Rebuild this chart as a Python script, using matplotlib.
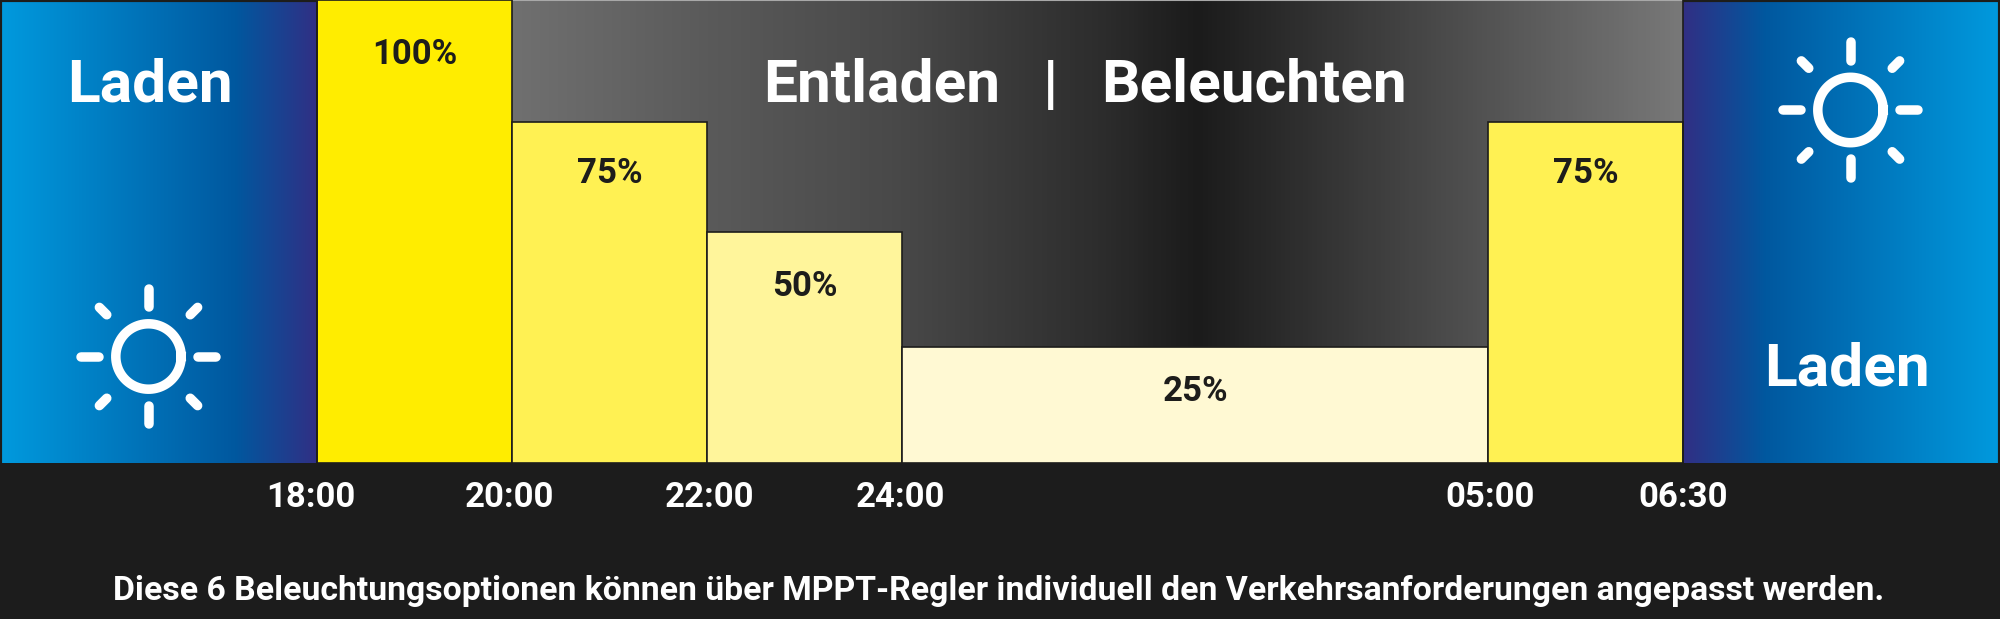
import matplotlib
matplotlib.use('Agg')
import matplotlib.pyplot as plt
from matplotlib.colors import LinearSegmentedColormap
import numpy as np

plt.rcParams['font.family'] = ['Roboto', 'DejaVu Sans']

#Chart values
slot_widths = [1, 1, 1, 3, 1]
bar_heights = [100, 73.7, 50, 25, 73.7]
bar_labels = ['100%', '75%', '50%', '25%', '75%']
label_levels = [86.15, 60.55, 36.05, 13.35, 60.55]
bar_colors = ['#ffed00', '#fff153', '#fff59b', '#fff9d3', '#fff153']
tick_labels = ['18:00', '20:00', '22:00', '24:00', '05:00', '06:30']
tick_shift = [-0.03, -0.015, 0.01, -0.01, 0.01, 0.0]
caption = 'Diese 6 Beleuchtungsoptionen können über MPPT-Regler individuell den Verkehrsanforderungen angepasst werden.'

dark = '#1c1c1c'
ink = '#1d1d1b'
blue_stops = [(0, '#009ade'), (0.74, '#00589f'), (1, '#312f84')]
grey_stops = [(0, '#707070'), (0.166, '#5a5a5a'), (0.333, '#484848'), (0.507, '#2c2c2c'), (0.586, '#1b1b1b'), (1, '#787878')]
side = 1.625

fig = plt.figure(figsize=(20, 6.19), dpi=100, facecolor=dark)
ax = fig.add_axes([0, 156/619, 1, 463/619])
ax.set_facecolor(dark)

#Bars sit between the two charging blocks
edges = side + np.concatenate(([0], np.cumsum(slot_widths)))
total = edges[-1] + side

#Gradients behind the bars
blue = LinearSegmentedColormap.from_list('blue', blue_stops)
grey = LinearSegmentedColormap.from_list('grey', grey_stops)
ramp = np.linspace(0, 1, 512).reshape(1, -1)
ax.imshow(ramp, cmap=blue, extent=[0, side, 0, 100], aspect='auto', zorder=1)
ax.imshow(ramp[:, ::-1], cmap=blue, extent=[edges[-1], total, 0, 100], aspect='auto', zorder=1)
ax.imshow(ramp, cmap=grey, extent=[edges[1], edges[-1], 0, 100], aspect='auto', zorder=1)

ax.bar(edges[:-1], bar_heights, width=slot_widths, align='edge', color=bar_colors,
       edgecolor=ink, linewidth=1.2, zorder=2)
for i in range(len(bar_labels)):
    ax.text(edges[i] + slot_widths[i]/2, label_levels[i], bar_labels[i], ha='center', va='baseline',
            fontsize=25, fontweight='bold', color=ink, zorder=3)

#Outer edges of the charging blocks
ax.vlines([edges[0], edges[-1]], 0, 100, color=ink, linewidth=1.2, zorder=2)
ax.vlines([0, total], 0, 100, color=ink, linewidth=3, zorder=3)
ax.hlines(100, 0, side, color=ink, linewidth=3, zorder=3)
ax.hlines(100, edges[-1], total, color=ink, linewidth=3, zorder=3)
ax.hlines(100, edges[1], edges[-1], color='#a8a8a8', linewidth=1.5, zorder=1.5)

ax.set_xlim(0, total)
ax.set_ylim(0, 100)
ax.set_xticks(edges + np.array(tick_shift))
ax.set_xticklabels(tick_labels, fontsize=25, fontweight='bold', color='white')
ax.tick_params(axis='x', length=0, pad=13)
ax.set_yticks([])
for spine in ax.spines.values():
    spine.set_visible(False)

#Overlay in pixels for the headings and sun icons
over = fig.add_axes([0, 0, 1, 1], facecolor='none')
over.set_xlim(0, 2000)
over.set_ylim(619, 0)
over.axis('off')

big = dict(fontsize=43.5, fontweight='bold', color='white', va='baseline')
over.text(150, 102, 'Laden', ha='center', **big)
over.text(1847, 385, 'Laden', ha='center', **big)
over.text(882, 102, 'Entladen', ha='center', **big)
over.text(1050, 102, '|', ha='center', **big)
over.text(1254, 102, 'Beleuchten', ha='center', **big)
over.text(999, 600, caption, ha='center', va='baseline', fontsize=24.3, fontweight='bold', color='white')


def draw_sun(cx, cy):
    lw = 9.5*72/100
    t = np.linspace(0, 2*np.pi, 100)
    over.plot(cx + 32.7*np.cos(t), cy + 32.7*np.sin(t), color='white', lw=lw)
    for k in range(8):
        a = k*np.pi/4
        #Diagonal rays are a little shorter than the straight ones
        r0, r1 = (59, 69.5) if k % 2 else (49.4, 67.8)
        over.plot([cx + r0*np.cos(a), cx + r1*np.cos(a)], [cy + r0*np.sin(a), cy + r1*np.sin(a)],
                  color='white', lw=lw, solid_capstyle='round')


draw_sun(148.5, 356.5)
draw_sun(1850.5, 110)

fig.savefig('out.png', dpi=100, facecolor=dark)
